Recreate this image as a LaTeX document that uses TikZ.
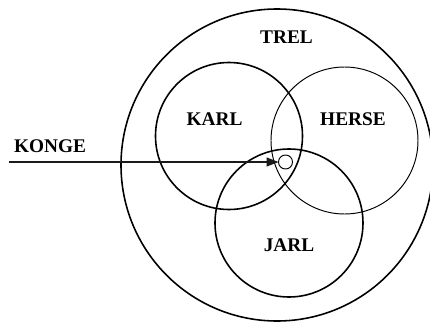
\documentclass[tikz,border=0pt]{standalone}
\usepackage{fontspec}
\setmainfont{Liberation Serif}
\usetikzlibrary{arrows.meta}
\definecolor{ringLine}{HTML}{000000}
\definecolor{arrowLine}{HTML}{1A1A1A}

\begin{document}
\begin{tikzpicture}[
    x=0.02cm,y=0.02cm,>=Triangle,
    every node/.style={font=\fontsize{11}{13}\selectfont\bfseries,align=center},
    rank/.style={draw=ringLine,line width=0.9pt},
    lightrank/.style={draw=ringLine,line width=0.55pt},
    point/.style={circle,draw=ringLine,line width=0.55pt,inner sep=0pt,outer sep=0pt,minimum size=0.28cm},
    flow/.style={-{Triangle[length=2.4mm,width=1.8mm]},draw=arrowLine,line width=0.7pt}
]
\useasboundingbox (0,0) rectangle (430,322);
\coordinate (trelc) at (277,157);
\coordinate (karlc) at (229,186);
\coordinate (hersec) at (344.5,181.5);
\coordinate (jarlc) at (289,99);
\draw[rank] (trelc) circle (156);
\draw[rank] (karlc) circle (73.5);
\draw[lightrank] (hersec) circle (73.5);
\draw[rank] (jarlc) circle (74);
\node (trel) at (286.5,285) {TREL};
\node (karl) at (214.5,203) {KARL};
\node (herse) at (353,203) {HERSE};
\node (jarl) at (289,76.5) {JARL};
\node (konge) at (50,176) {KONGE};
\node[point] (king) at (285.5,160) {};
\coordinate (start) at (9,160);
\draw[flow] (start) -- (king);
\end{tikzpicture}
\end{document}
